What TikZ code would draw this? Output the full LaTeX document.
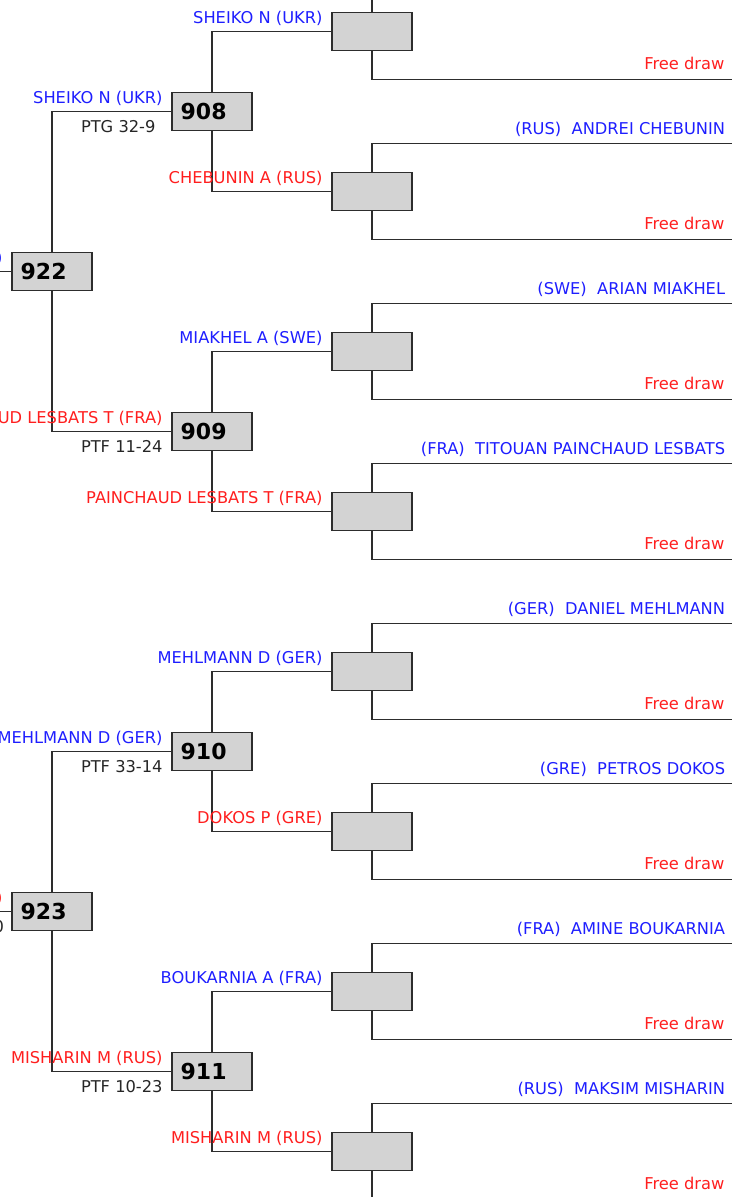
\documentclass[tikz,border=0pt]{standalone}
\usepackage{fontspec}
\setmainfont{DejaVu Sans}
\usetikzlibrary{positioning}

\definecolor{slotblue}{RGB}{30,30,255}
\definecolor{slotred}{RGB}{255,30,30}
\definecolor{boxgray}{RGB}{211,211,211}
\definecolor{linegray}{RGB}{45,45,45}

\tikzset{
  bracket/.style={draw=linegray, line width=0.9pt},
  matchbox/.style={draw=linegray, line width=0.9pt, fill=boxgray,
    minimum width=60pt, minimum height=28pt, inner xsep=6.5pt, inner ysep=0pt,
    text width=47pt, align=left, font=\fontsize{16.5}{20}\selectfont\bfseries},
  slotname/.style={anchor=base east, inner sep=0pt},
  entry/.style={anchor=base east, inner sep=0pt},
  score/.style={anchor=base west, inner sep=0pt, text=black!85}
}

\begin{document}
\begin{tikzpicture}[x=0.75pt, y=-0.75pt, font=\fontsize{12.2}{15}\selectfont]
  \useasboundingbox (0,0) rectangle (742,1197);

  % first round
  \foreach \i in {1,...,8} {
    \pgfmathsetmacro\c{160*\i-128.5}
    \node[matchbox] (r\i) at (372,\c) {};
    \coordinate (t\i) at (732,\c-48);
    \coordinate (b\i) at (732,\c+48);
    \draw[bracket] (r\i.north) |- (t\i);
    \draw[bracket] (r\i.south) |- (b\i);
    \node[entry, text=slotred] (f\i) at ([xshift=-5.5pt,yshift=7.5pt]b\i) {Free draw};
  }
  \foreach \i/\who in {2/{(RUS)\ \ ANDREI CHEBUNIN}, 3/{(SWE)\ \ ARIAN MIAKHEL},
      4/{(FRA)\ \ TITOUAN PAINCHAUD LESBATS}, 5/{(GER)\ \ DANIEL MEHLMANN},
      6/{(GRE)\ \ PETROS DOKOS}, 7/{(FRA)\ \ AMINE BOUKARNIA},
      8/{(RUS)\ \ MAKSIM MISHARIN}}
    \node[entry, text=slotblue] (e\i) at ([xshift=-5pt,yshift=7pt]t\i) {\who};

  % second and third round
  \node[matchbox] (m908) at (212,111.5) {908};
  \node[matchbox] (m909) at (212,431.5) {909};
  \node[matchbox] (m910) at (212,751.5) {910};
  \node[matchbox] (m911) at (212,1071.5) {911};
  \node[matchbox] (m922) at (52,271.5) {922};
  \node[matchbox] (m923) at (52,911.5) {923};

  \draw[bracket] (m908.north) |- (r1.west);
  \draw[bracket] (m908.south) |- (r2.west);
  \draw[bracket] (m909.north) |- (r3.west);
  \draw[bracket] (m909.south) |- (r4.west);
  \draw[bracket] (m910.north) |- (r5.west);
  \draw[bracket] (m910.south) |- (r6.west);
  \draw[bracket] (m911.north) |- (r7.west);
  \draw[bracket] (m911.south) |- (r8.west);
  \draw[bracket] (m922.north) |- (m908.west);
  \draw[bracket] (m922.south) |- (m909.west);
  \draw[bracket] (m923.north) |- (m910.west);
  \draw[bracket] (m923.south) |- (m911.west);
  \coordinate (l922) at (0,271.5);
  \coordinate (l923) at (0,911.5);
  \draw[bracket] (m922.west) -- (l922);
  \draw[bracket] (m923.west) -- (l923);

  % winners
  \foreach \m/\who/\col in {r1/{SHEIKO N (UKR)}/slotblue, r2/{CHEBUNIN A (RUS)}/slotred,
      r3/{MIAKHEL A (SWE)}/slotblue, r4/{PAINCHAUD LESBATS T (FRA)}/slotred,
      r5/{MEHLMANN D (GER)}/slotblue, r6/{DOKOS P (GRE)}/slotred,
      r7/{BOUKARNIA A (FRA)}/slotblue, r8/{MISHARIN M (RUS)}/slotred,
      m908/{SHEIKO N (UKR)}/slotblue, m909/{PAINCHAUD LESBATS T (FRA)}/slotred,
      m910/{MEHLMANN D (GER)}/slotblue, m911/{MISHARIN M (RUS)}/slotred,
      m922/{SHEIKO N (UKR)}/slotblue, m923/{MISHARIN M (RUS)}/slotred}
    \node[slotname, text=\col] (w\m) at ([xshift=-6.5pt,yshift=6pt]\m.west) {\who};

  % scores
  \foreach \m/\pts in {m908/PTG 32-9, m909/PTF 11-24, m910/PTF 33-14, m911/PTF 10-23}
    \node[score] (s\m) at ([xshift=-68pt,yshift=-15.75pt]\m.west) {\pts};
  \node[score, anchor=base east] (sm923) at ([xshift=-5.3pt,yshift=-15.75pt]m923.west) {0};
\end{tikzpicture}
\end{document}
